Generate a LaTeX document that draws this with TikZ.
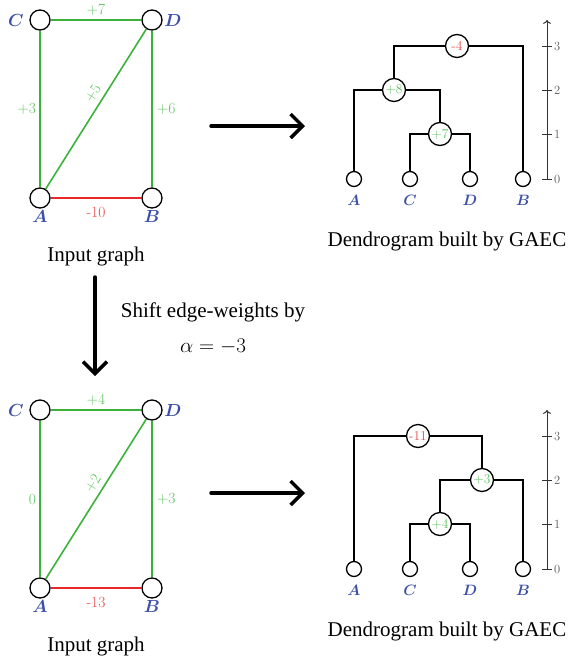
\RequirePackage{fix-cm}
\documentclass[tikz,border=0pt]{standalone}
\usepackage{amsmath,amssymb}
\usepackage{fontspec}
\newfontfamily\capfont{Liberation Serif}
\usetikzlibrary{arrows.meta,positioning}
\definecolor{edgegreen}{RGB}{60,178,60}
\definecolor{wgreen}{RGB}{95,195,95}
\definecolor{edgered}{RGB}{232,40,40}
\definecolor{wred}{RGB}{235,75,75}
\definecolor{vblue}{RGB}{60,80,170}

\begin{document}
\begin{tikzpicture}[x=1pt, y=-1pt, line width=1.3pt,
  vertex/.style={circle, draw, fill=white, minimum size=20pt, inner sep=0pt},
  leaf/.style={circle, draw, fill=white, minimum size=15pt, inner sep=0pt},
  merge/.style={circle, draw, fill=white, minimum size=23pt, inner sep=0pt,
    font=\fontsize{13.5}{15}\selectfont},
  vlabel/.style={text=vblue, inner sep=1pt, font=\fontsize{17.5}{20}\selectfont},
  dlabel/.style={text=vblue, inner sep=1pt, font=\fontsize{15}{18}\selectfont},
  wlabel/.style={font=\fontsize{15.5}{18}\selectfont},
  goodedge/.style={draw=edgegreen, line width=1.6pt},
  badedge/.style={draw=edgered, line width=1.6pt},
  caption/.style={font=\capfont\fontsize{21}{35}\selectfont, align=center},
  bigarrow/.style={-{Straight Barb[length=12pt, width=24pt]}, line width=3.5pt,
    line cap=round},
  tick/.style={draw=black!80, line width=1pt}]
  \useasboundingbox (0,0) rectangle (580,659);

  % Input graphs (top: original weights, bottom: shifted)
  \foreach \p/\dy/\wcd/\wca/\wdb/\wad/\wab in
      {t/0/+7/+3/+6/+5/-10, b/390/+4/0/+3/+2/-13} {
    \begin{scope}[shift={(0,\dy)}]
      \node[vertex] (\p C) at (40,20)   {};
      \node[vertex] (\p D) at (152,20)  {};
      \node[vertex] (\p A) at (40,198)  {};
      \node[vertex] (\p B) at (152,198) {};
      \node[vlabel, left=4pt of \p C]  {$\boldsymbol{C}$};
      \node[vlabel, right=0pt of \p D] {$\boldsymbol{D}$};
      \node[vlabel, below=0pt of \p A] {$\boldsymbol{A}$};
      \node[vlabel, below=0pt of \p B] {$\boldsymbol{B}$};
      \draw[goodedge] (\p C) -- node[wlabel, text=wgreen, above=0pt] {\wcd} (\p D);
      \draw[goodedge] (\p C) -- node[wlabel, text=wgreen, left=0pt] {\wca} (\p A);
      \draw[goodedge] (\p D) -- node[wlabel, text=wgreen, right=1pt] {\wdb} (\p B);
      \draw[goodedge] (\p A) -- node[wlabel, text=wgreen, pos=0.56, sloped, above=1pt] {\wad} (\p D);
      \draw[badedge]  (\p A) -- node[wlabel, text=wred, below=5pt] {\wab} (\p B);
      \node[caption] (\p in) at (96,256) {Input graph};
      \node[caption] (\p den) at (447,241) {Dendrogram built by GAEC};
      % leaves
      \node[leaf] (\p lA) at (354,179) {};
      \node[leaf] (\p lC) at (410,179) {};
      \node[leaf] (\p lD) at (470,179) {};
      \node[leaf] (\p lB) at (523,179) {};
      \foreach \v in {A,C,D,B} {
        \node[dlabel, below=6pt of \p l\v] {$\boldsymbol{\v}$};
      }
      % height axis
      \coordinate (\p ax0) at (547,179);
      \coordinate (\p axtop) at (547,20);
      \draw[->, >=To, draw=black!80, line width=1pt] (\p ax0) -- (\p axtop);
      \foreach \k in {0,...,3} {
        \draw[tick] (542,179-44.3*\k) -- (552,179-44.3*\k)
          node[right, inner sep=1.5pt, text=black!65, font=\fontsize{12.5}{15}\selectfont] {\k};
      }
    \end{scope}
  }

  % Dendrogram of the original graph
  \node[merge, text=wgreen] (tm7) at (440,134) {+7};
  \node[merge, text=wgreen] (tm8) at (394,90)  {+8};
  \node[merge, text=wred]   (tm4) at (457,46)  {-4};
  \draw (tm7) -| (tlC);  \draw (tm7) -| (tlD);
  \draw (tm8) -| (tlA);  \draw (tm8) -| (tm7);
  \draw (tm4) -| (tm8);  \draw (tm4) -| (tlB);

  % Dendrogram of the shifted graph
  \node[merge, text=wgreen] (bm4) at (440,524)  {+4};
  \node[merge, text=wgreen] (bm3) at (482,480)  {+3};
  \node[merge, text=wred]   (bm11) at (418,436) {-11};
  \draw (bm4) -| (blC);  \draw (bm4) -| (blD);
  \draw (bm3) -| (bm4);  \draw (bm3) -| (blB);
  \draw (bm11) -| (blA); \draw (bm11) -| (bm3);

  % big arrows
  \coordinate (tarL) at (211,126); \coordinate (tarR) at (305,126);
  \coordinate (barL) at (211,493); \coordinate (barR) at (305,493);
  \coordinate (dnT) at (95,277);   \coordinate (dnB) at (95,376);
  \draw[bigarrow] (tarL) -- (tarR);
  \draw[bigarrow] (barL) -- (barR);
  \draw[bigarrow] (dnT) -- (dnB);
  \node[caption] (shift) at (213,328) {Shift edge-weights by\\$\alpha=-3$};
\end{tikzpicture}
\end{document}
